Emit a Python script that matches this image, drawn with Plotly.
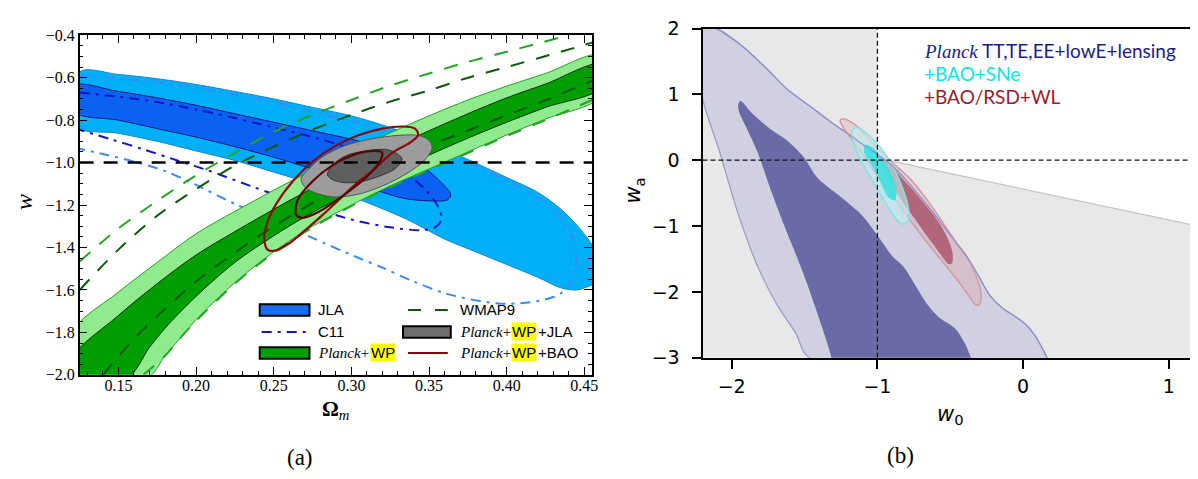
import plotly.graph_objects as go

W, H = 1198, 479

# ---------------- Panel (a): Omega_m vs w ----------------
jla95_x = [0.125, 0.15, 0.175, 0.2, 0.225, 0.25, 0.275, 0.30, 0.325, 0.35, 0.375, 0.40, 0.42, 0.435, 0.447, 0.458,
           0.458, 0.452, 0.445, 0.435, 0.42, 0.40, 0.38, 0.36, 0.335, 0.30, 0.275, 0.25, 0.225, 0.20, 0.175, 0.15, 0.122]
jla95_y = [-0.573, -0.585, -0.605, -0.632, -0.665, -0.70, -0.74, -0.78, -0.835, -0.905, -0.985, -1.07, -1.14, -1.22, -1.31, -1.43,
           -1.56, -1.585, -1.60, -1.59, -1.54, -1.48, -1.42, -1.36, -1.265, -1.16, -1.10, -1.045, -0.99, -0.945, -0.90, -0.862, -0.828]
jla68_x = [0.122, 0.15, 0.175, 0.2, 0.225, 0.25, 0.275, 0.30, 0.32, 0.335, 0.348, 0.358, 0.364, 0.362, 0.35, 0.335,
           0.32, 0.30, 0.275, 0.25, 0.225, 0.2, 0.175, 0.15, 0.122]
jla68_y = [-0.637, -0.665, -0.695, -0.73, -0.77, -0.81, -0.85, -0.89, -0.93, -0.97, -1.03, -1.095, -1.15, -1.175, -1.18, -1.17,
           -1.14, -1.09, -1.03, -0.975, -0.925, -0.88, -0.84, -0.80, -0.762]
c11_68_x = [0.125, 0.15, 0.175, 0.2, 0.225, 0.25, 0.275, 0.30, 0.32, 0.335, 0.348, 0.356, 0.358, 0.354, 0.345, 0.325,
            0.30, 0.27, 0.235, 0.207, 0.187, 0.165, 0.145, 0.125]
c11_68_y = [-0.67, -0.69, -0.715, -0.75, -0.79, -0.835, -0.88, -0.935, -0.99, -1.05, -1.13, -1.21, -1.27, -1.305, -1.318, -1.305,
            -1.268, -1.20, -1.11, -1.035, -0.988, -0.935, -0.89, -0.846]
c11_95_x = [0.125, 0.15, 0.175, 0.2, 0.225, 0.25, 0.275, 0.30, 0.325, 0.35, 0.375, 0.40, 0.42, 0.435, 0.443, 0.445, 0.442,
            0.434, 0.42, 0.40, 0.385, 0.36, 0.34, 0.32, 0.30, 0.275, 0.25, 0.225, 0.2, 0.18, 0.16, 0.14, 0.125]
c11_95_y = [-0.59, -0.603, -0.622, -0.648, -0.68, -0.717, -0.76, -0.805, -0.86, -0.925, -1.0, -1.085, -1.165, -1.26, -1.37, -1.48, -1.56,
            -1.62, -1.652, -1.665, -1.655, -1.615, -1.56, -1.495, -1.435, -1.355, -1.275, -1.195, -1.105, -1.04, -0.995, -0.96, -0.935]
planck95_x = [0.12, 0.15, 0.175, 0.2, 0.225, 0.25, 0.275, 0.30, 0.325, 0.35, 0.375, 0.40, 0.425, 0.46,
              0.46, 0.425, 0.40, 0.375, 0.35, 0.325, 0.30, 0.275, 0.25, 0.225, 0.2, 0.193, 0.18, 0.168, 0.12]
planck95_y = [-1.80, -1.61, -1.47, -1.335, -1.23, -1.13, -1.035, -0.945, -0.86, -0.78, -0.705, -0.64, -0.58, -0.495,
              -0.69, -0.795, -0.87, -0.95, -1.03, -1.11, -1.20, -1.30, -1.42, -1.565, -1.74, -1.80, -1.91, -2.02, -2.02]
planck68_x = [0.12, 0.15, 0.175, 0.2, 0.225, 0.25, 0.275, 0.30, 0.325, 0.35, 0.375, 0.40, 0.425, 0.46,
              0.46, 0.425, 0.40, 0.375, 0.35, 0.325, 0.30, 0.275, 0.25, 0.225, 0.2, 0.18, 0.17, 0.155, 0.12]
planck68_y = [-1.92, -1.72, -1.57, -1.435, -1.325, -1.22, -1.12, -1.025, -0.935, -0.85, -0.77, -0.695, -0.63, -0.537,
              -0.65, -0.74, -0.81, -0.885, -0.965, -1.05, -1.14, -1.235, -1.345, -1.47, -1.63, -1.78, -1.87, -2.02, -2.02]
wmap95_up_x = [0.125, 0.15, 0.175, 0.2, 0.226, 0.25, 0.275, 0.30, 0.324, 0.35, 0.373, 0.40, 0.422, 0.44]
wmap95_up_y = [-1.466, -1.31, -1.18, -1.06, -0.95, -0.855, -0.775, -0.705, -0.64, -0.58, -0.53, -0.478, -0.435, -0.40]
wmap95_lo_x = [0.166, 0.18, 0.193, 0.2, 0.225, 0.25, 0.275, 0.30, 0.325, 0.35, 0.375, 0.40, 0.425, 0.455]
wmap95_lo_y = [-2.0, -1.91, -1.80, -1.745, -1.57, -1.425, -1.305, -1.205, -1.115, -1.035, -0.955, -0.875, -0.80, -0.705]
wmap68_up_x = [0.125, 0.15, 0.175, 0.2, 0.226, 0.25, 0.275, 0.30, 0.324, 0.35, 0.373, 0.40, 0.422, 0.455]
wmap68_up_y = [-1.60, -1.41, -1.25, -1.125, -1.01, -0.925, -0.845, -0.775, -0.715, -0.66, -0.605, -0.55, -0.505, -0.435]
wmap68_lo_x = [0.14, 0.16, 0.177, 0.2, 0.22, 0.25, 0.275, 0.30, 0.324, 0.348, 0.373, 0.397, 0.422, 0.455]
wmap68_lo_y = [-2.0, -1.83, -1.71, -1.56, -1.45, -1.30, -1.19, -1.08, -1.0, -0.925, -0.855, -0.785, -0.715, -0.615]
pwjla95_x = [0.2676, 0.272, 0.281, 0.296, 0.313, 0.33, 0.343, 0.35, 0.352, 0.347, 0.336, 0.32, 0.305, 0.29, 0.279, 0.27]
pwjla95_y = [-1.075, -1.035, -0.975, -0.92, -0.888, -0.872, -0.872, -0.895, -0.93, -0.99, -1.05, -1.11, -1.148, -1.162, -1.148, -1.115]
pwjla68_x = [0.2846, 0.2878, 0.2963, 0.3091, 0.3219, 0.3283, 0.3326, 0.3283, 0.3176, 0.307, 0.2963, 0.2878]
pwjla68_y = [-1.058, -1.013, -0.968, -0.945, -0.938, -0.953, -0.983, -1.028, -1.065, -1.088, -1.095, -1.08]
pwbao95_x = [0.246, 0.244, 0.246, 0.252, 0.262, 0.275, 0.29, 0.305, 0.32, 0.333, 0.341, 0.343, 0.338, 0.326, 0.315,
             0.303, 0.292, 0.281, 0.27, 0.26, 0.251]
pwbao95_y = [-1.41, -1.36, -1.28, -1.19, -1.09, -0.995, -0.92, -0.87, -0.84, -0.83, -0.84, -0.87, -0.905, -0.955, -1.03,
             -1.10, -1.175, -1.25, -1.32, -1.38, -1.415]
pwbao68_x = [0.2644, 0.2654, 0.275, 0.2878, 0.3027, 0.3155, 0.3198, 0.3187, 0.3091, 0.2963, 0.2793, 0.2686]
pwbao68_y = [-1.245, -1.177, -1.088, -1.013, -0.96, -0.945, -0.953, -0.99, -1.073, -1.147, -1.23, -1.26]
lcdm_w_x = [0.125, 0.455]
lcdm_w_y = [-1.0, -1.0]

# ---------------- Panel (b): w0 vs wa ----------------
prior_x = [-2.2, -1.0, -1.0, -0.935, 1.2, 1.2, -2.2]
prior_y = [2.0, 2.0, 0.0, 0.0, -1.0, -3.0, -3.0]
prior_edge_x = [-0.935, 1.2]
prior_edge_y = [0.0, -1.0]
pl95_x = [-2.21, -2.11, -1.93, -1.75, -1.62, -1.45, -1.30, -1.20, -1.10, -1.0, -0.90, -0.78, -0.66, -0.55, -0.45, -0.37,
          -0.30, -0.23, -0.14, -0.05, 0.02, 0.08, 0.13, 0.165, 0.17, -1.46, -1.56, -1.69, -1.82, -1.95, -2.08, -2.21]
pl95_y = [2.01, 2.01, 1.74, 1.37, 1.08, 0.80, 0.55, 0.40, 0.24, 0.09, -0.08, -0.36, -0.68, -0.99, -1.28, -1.52,
          -1.78, -2.05, -2.25, -2.38, -2.50, -2.66, -2.85, -3.0, -3.01, -3.01, -2.63, -2.19, -1.62, -0.85, 0.11, 1.05]
pl68_x = [-1.94, -1.85, -1.72, -1.62, -1.51, -1.41, -1.25, -1.10, -1.0, -0.90, -0.82, -0.74, -0.66, -0.58, -0.47, -0.40,
          -0.356, -0.35, -1.32, -1.317, -1.41, -1.51, -1.64, -1.745, -1.82, -1.90, -1.95, -1.955]
pl68_y = [0.90, 0.69, 0.45, 0.30, 0.06, -0.27, -0.56, -0.85, -1.14, -1.45, -1.62, -1.90, -2.18, -2.38, -2.55, -2.78,
          -3.0, -3.01, -3.01, -3.0, -2.34, -1.71, -0.99, -0.37, 0.11, 0.50, 0.74, 0.85]
rsd95_x = [-1.24, -1.16, -1.08, -1.005, -0.90, -0.777, -0.66, -0.55, -0.46, -0.39, -0.33, -0.295, -0.288, -0.30, -0.325,
           -0.36, -0.436, -0.55, -0.664, -0.78, -0.891, -1.0, -1.096, -1.18, -1.235, -1.255]
rsd95_y = [0.63, 0.55, 0.38, 0.19, -0.03, -0.28, -0.60, -0.95, -1.25, -1.45, -1.72, -1.95, -2.12, -2.19, -2.20,
           -2.10, -1.865, -1.55, -1.236, -0.90, -0.561, -0.24, 0.068, 0.33, 0.50, 0.60]
rsd68_x = [-0.97, -0.91, -0.84, -0.777, -0.70, -0.641, -0.58, -0.528, -0.495, -0.482, -0.49, -0.51, -0.55, -0.60, -0.664,
           -0.73, -0.789, -0.85, -0.91, -0.96, -0.985]
rsd68_y = [0.05, -0.06, -0.25, -0.40, -0.60, -0.76, -0.94, -1.14, -1.32, -1.45, -1.57, -1.58, -1.48, -1.33, -1.14,
           -0.93, -0.754, -0.55, -0.33, -0.13, 0.0]
sne95_x = [-1.141, -1.05, -0.937, -0.846, -0.789, -0.789, -0.835, -0.914, -1.005, -1.107, -1.169, -1.175]
sne95_y = [0.503, 0.358, 0.068, -0.319, -0.706, -0.923, -0.971, -0.754, -0.416, -0.029, 0.286, 0.43]
sne68_x = [-1.084, -1.028, -0.959, -0.903, -0.869, -0.88, -0.925, -0.982, -1.039, -1.091]
sne68_y = [0.236, 0.188, -0.004, -0.222, -0.464, -0.609, -0.561, -0.319, -0.077, 0.116]
ref_w0_x = [-1.0, -1.0]
ref_w0_y = [-3.0, 2.0]
ref_wa_x = [-2.2, 1.2]
ref_wa_y = [0.0, 0.0]

fig = go.Figure()


def closed(x, y, fill, lc='rgba(0,0,0,0)', lw=0, xa='x', ya='y', shape='spline'):
    fig.add_trace(go.Scatter(x=list(x) + [x[0]], y=list(y) + [y[0]], mode='lines', fill='toself',
                             fillcolor=fill, line=dict(color=lc, width=lw, shape=shape, smoothing=0.9),
                             xaxis=xa, yaxis=ya, hoverinfo='skip', showlegend=False))


def path(x, y, color, width, dash='solid', xa='x', ya='y', shape='spline'):
    fig.add_trace(go.Scatter(x=x, y=y, mode='lines', line=dict(color=color, width=width, dash=dash, shape=shape,
                                                                   smoothing=0.9),
                             xaxis=xa, yaxis=ya, hoverinfo='skip', showlegend=False))


# panel (a)
closed(jla95_x, jla95_y, '#00b0f6', '#0a86d8', 1)
closed(jla68_x, jla68_y, '#0a62f2', '#0a1a80', 1)
path(c11_95_x, c11_95_y, '#3a8af8', 2, '10px,6px,3px,6px')
path(c11_68_x, c11_68_y, '#1414c8', 2, '10px,6px,3px,6px')
closed(planck95_x, planck95_y, '#90ea8e', '#22a022', 1)
closed(planck68_x, planck68_y, '#009e00', '#0a300a', 1)
path(wmap95_up_x, wmap95_up_y, '#25a525', 2, '14px,12px')
path(wmap95_lo_x, wmap95_lo_y, '#25a525', 2, '14px,12px')
path(wmap68_up_x, wmap68_up_y, '#0a5a0a', 2, '14px,12px')
path(wmap68_lo_x, wmap68_lo_y, '#0a5a0a', 2, '14px,12px')
closed(pwjla95_x, pwjla95_y, '#9c9c9c', '#555555', 1)
closed(pwjla68_x, pwjla68_y, '#5e5e5e', '#333333', 1)
path(lcdm_w_x, lcdm_w_y, '#000000', 2.5, '14px,10px', shape='linear')
closed(pwbao95_x, pwbao95_y, 'rgba(0,0,0,0)', '#8a0a0a', 2.2)
closed(pwbao68_x, pwbao68_y, 'rgba(0,0,0,0)', '#5a0505', 2.2)

# panel (b)
closed(prior_x, prior_y, '#e8e8e8', xa='x2', ya='y2', shape='linear')
path(prior_edge_x, prior_edge_y, '#c4c4c4', 1.2, xa='x2', ya='y2', shape='linear')
closed(pl95_x, pl95_y, '#d0d0e0', '#9c9cc8', 1.3, xa='x2', ya='y2')
closed(pl68_x, pl68_y, '#6a6aa6', xa='x2', ya='y2')
closed(rsd95_x, rsd95_y, 'rgba(220,160,170,0.35)', '#d39aa5', 1.5, xa='x2', ya='y2')
closed(rsd68_x, rsd68_y, 'rgba(170,80,100,0.8)', xa='x2', ya='y2')
closed(sne95_x, sne95_y, 'rgba(190,240,240,0.6)', '#86e2e2', 1.5, xa='x2', ya='y2')
closed(sne68_x, sne68_y, 'rgba(50,225,225,0.85)', xa='x2', ya='y2')
path(pl95_x[1:24], pl95_y[1:24], 'rgba(140,140,200,0.8)', 1.2, xa='x2', ya='y2')
path(ref_w0_x, ref_w0_y, '#111111', 1.2, '5px,3px', xa='x2', ya='y2', shape='linear')
path(ref_wa_x, ref_wa_y, '#111111', 1.2, '5px,3px', xa='x2', ya='y2', shape='linear')


def fx(p):
    return p / W


def fy(p):
    return 1 - p / H


serif = 'Liberation Serif'
sans = 'Liberation Sans'
bsans = 'DejaVu Sans'

fig.update_layout(
    width=W, height=H, margin=dict(l=0, r=0, t=0, b=0), paper_bgcolor='white', plot_bgcolor='white',
    showlegend=False,
    xaxis=dict(domain=[fx(72), fx(587)], range=[0.125, 0.455], tick0=0.15, dtick=0.05, tickformat='.2f',
               ticks='inside', ticklen=8, tickwidth=1.2, tickcolor='black', mirror='allticks', showline=True,
               linecolor='black', linewidth=1.5, showgrid=False, zeroline=False, anchor='y',
               ticklabelstandoff=-5,
               tickfont=dict(family=serif, size=16, color='black'),
               minor=dict(dtick=0.01, tick0=0.15, ticks='inside', ticklen=4, tickwidth=1, tickcolor='black')),
    yaxis=dict(domain=[fy(373), fy(17)], range=[-2.0, -0.4], tick0=-2.0, dtick=0.2, tickformat='.1f',
               ticks='inside', ticklen=8, tickwidth=1.2, tickcolor='black', mirror='allticks', showline=True,
               linecolor='black', linewidth=1.5, showgrid=False, zeroline=False, anchor='x',
               tickfont=dict(family=serif, size=16, color='black'),
               minor=dict(dtick=0.05, tick0=-2.0, ticks='inside', ticklen=4, tickwidth=1, tickcolor='black')),
    xaxis2=dict(domain=[fx(698), fx(1196)], range=[-2.2, 1.2], tickvals=[-2, -1, 0, 1],
                ticks='outside', ticklen=9, tickwidth=2, tickcolor='black', mirror=True, showline=True,
                linecolor='black', linewidth=2, showgrid=False, zeroline=False, anchor='y2',
                ticklabelstandoff=2, tickfont=dict(family=bsans, size=19, color='black')),
    yaxis2=dict(domain=[fy(355), fy(10)], range=[-3, 2], tickvals=[-3, -2, -1, 0, 1, 2],
                ticks='outside', ticklen=9, tickwidth=2, tickcolor='black', mirror=True, showline=True,
                linecolor='black', linewidth=2, showgrid=False, zeroline=False, anchor='x2',
                ticklabelstandoff=8, tickfont=dict(family=bsans, size=19, color='black')),
)

ann = []


def text(t, x, y, size, family, color='black', xanchor='center', angle=0, bg=None):
    d = dict(text=t, x=fx(x), y=fy(y), xref='paper', yref='paper', showarrow=False, xanchor=xanchor,
             yanchor='middle', textangle=angle, font=dict(family=family, size=size, color=color),
             borderpad=0)
    if bg:
        d.update(bgcolor=bg)
    ann.append(d)


# panel (a) labels
text('<i>w</i>', 16, 192, 24, serif, angle=-90)
text('<b>Ω</b><sub><i>m</i></sub>', 329, 410, 21, serif)
text('(a)', 293, 460, 23, serif)
# panel (a) legend text
text('JLA', 311, 305, 15, sans, xanchor='left')
text('C11', 311, 328, 15, sans, xanchor='left')
text('<i>Planck</i>+', 311, 350, 15, serif, xanchor='left')
text('WP', 364, 350, 15, sans, xanchor='left', bg='#ffff00')
text('WMAP9', 453, 305, 15, sans, xanchor='left')
text('<i>Planck</i>+', 453, 328, 15, serif, xanchor='left')
text('WP', 506, 328, 15, sans, xanchor='left', bg='#ffff00')
text('+JLA', 532, 328, 15, sans, xanchor='left')
text('<i>Planck</i>+', 453, 350, 15, serif, xanchor='left')
text('WP', 506, 350, 15, sans, xanchor='left', bg='#ffff00')
text('+BAO', 532, 350, 15, sans, xanchor='left')
# panel (b) labels
text('<i>w</i><sub>a</sub>', 629, 180, 21, bsans, angle=-90)
text('<i>w</i><sub>0</sub>', 947, 415, 21, bsans)
text('(b)', 897, 458, 23, serif)
text('<span style="font-family:Liberation Serif"><i>Planck</i></span> TT,TE,EE+lowE+lensing', 920, 33, 19, 'Lato',
     color='#1c1c86', xanchor='left')
text('+BAO+SNe', 920, 57, 19, 'Lato', color='#10e4e4', xanchor='left')
text('+BAO/RSD+WL', 920, 81, 19, 'Lato', color='#9c1a2e', xanchor='left')
fig.update_layout(annotations=ann)

shapes = [
    dict(type='rect', xref='paper', yref='paper', x0=fx(253), x1=fx(303), y0=fy(311), y1=fy(299),
         fillcolor='#1a6ef5', line=dict(color='black', width=2)),
    dict(type='rect', xref='paper', yref='paper', x0=fx(253), x1=fx(303), y0=fy(356), y1=fy(344),
         fillcolor='#00a000', line=dict(color='black', width=2)),
    dict(type='rect', xref='paper', yref='paper', x0=fx(397), x1=fx(445), y0=fy(334), y1=fy(322),
         fillcolor='#6e6e6e', line=dict(color='black', width=2)),
    dict(type='line', xref='paper', yref='paper', x0=fx(255), x1=fx(301), y0=fy(328), y1=fy(328),
         line=dict(color='#1414c8', width=2, dash='10px,6px,3px,6px')),
    dict(type='line', xref='paper', yref='paper', x0=fx(402), x1=fx(442), y0=fy(305), y1=fy(305),
         line=dict(color='#0a5a0a', width=2, dash='13px,14px')),
    dict(type='line', xref='paper', yref='paper', x0=fx(402), x1=fx(442), y0=fy(350), y1=fy(350),
         line=dict(color='#7a0a0a', width=2)),
]
fig.update_layout(shapes=shapes)

fig.write_html('out.html')
